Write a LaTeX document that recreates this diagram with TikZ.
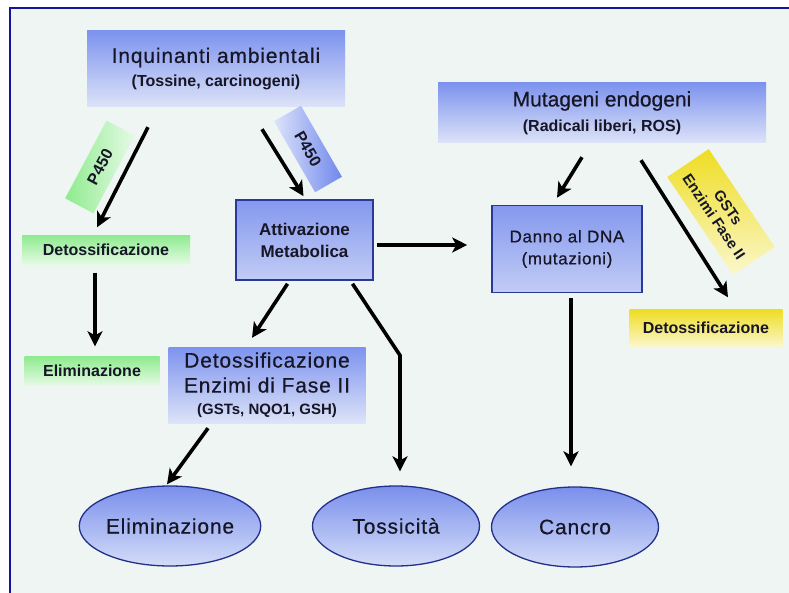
\documentclass[tikz,border=0pt]{standalone}
\usepackage{fontspec}
\setmainfont{Liberation Sans}
\newfontfamily\spc[LetterSpace=4,FakeBold=0.5]{Liberation Sans}
\newfontfamily\hvy[FakeBold=0.5]{Liberation Sans}
\usetikzlibrary{arrows.meta,shapes.geometric,calc}
\definecolor{bg}{HTML}{EEF5F2}
\definecolor{framec}{HTML}{1414A0}
\definecolor{txt}{HTML}{161626}
\definecolor{bluetop}{HTML}{7D93EE}
\definecolor{bluebot}{HTML}{DDE3F8}
\definecolor{boxtop}{HTML}{8498EE}
\definecolor{boxbot}{HTML}{C2CCF5}
\definecolor{boxedge}{HTML}{2A3898}
\definecolor{elltop}{HTML}{7A8FEC}
\definecolor{ellbot}{HTML}{D4DCF8}
\definecolor{elledge}{HTML}{23308A}
\definecolor{greentop}{HTML}{8EEB8E}
\definecolor{greenbot}{HTML}{E6FAE6}
\definecolor{yeltop}{HTML}{EEDD22}
\definecolor{yelbot}{HTML}{FBF7CC}
\definecolor{tagblue}{HTML}{7088EC}
\definecolor{tagbluepale}{HTML}{DCE3FA}
\newcommand\szBig{\fontsize{21}{25}\selectfont}
\newcommand\szMid{\fontsize{17}{22}\selectfont}
\newcommand\szPar{\fontsize{16}{19}\selectfont}
\newcommand\szLab{\fontsize{16}{19}\selectfont}
\newcommand\szTag{\fontsize{15}{17}\selectfont}
\begin{document}
\begin{tikzpicture}[x=1pt,y=-1pt,
  every node/.style={text=txt, align=center, inner sep=0pt},
  bluebox/.style={rectangle, top color=bluetop, bottom color=bluebot, draw=none},
  darkbox/.style={rectangle, top color=boxtop, bottom color=boxbot, draw=boxedge, line width=1.6pt},
  greenlab/.style={rectangle, top color=greentop, bottom color=greenbot, draw=none},
  yellab/.style={rectangle, top color=yeltop, bottom color=yelbot, draw=none},
  ovalbox/.style={ellipse, top color=elltop, bottom color=ellbot, draw=elledge, line width=1.3pt,
    minimum width=167pt, minimum height=80pt},
  arr/.style={line width=3.6pt, draw=black, -{Stealth[length=15pt,width=15pt,inset=4pt]}}
]
\useasboundingbox (0,0) rectangle (789,593);
\fill[white] (0,0) rectangle (789,593);
\fill[bg] (10,8) rectangle (789,593);
\draw[framec, line width=2.6pt] (10,593) -- (10,8) -- (789,8);

% boxes
\node[bluebox, minimum width=258pt, minimum height=76pt, font=\spc\szBig] (inq) at (216,69)
  {Inquinanti ambientali\\[-1pt]{\rmfamily\bfseries\szPar (Tossine, carcinogeni)}};
\node[bluebox, minimum width=328pt, minimum height=60pt, font=\hvy\szBig] (mut) at (602,113)
  {Mutageni endogeni\\[0pt]{\rmfamily\bfseries\szPar (Radicali liberi, ROS)}};
\node[darkbox, minimum width=137pt, minimum height=80pt, font=\bfseries\szMid] (att) at (304.5,240)
  {Attivazione\\Metabolica};
\node[darkbox, minimum width=150pt, minimum height=87pt, font=\spc\szMid] (danno) at (567,249)
  {Danno al DNA\\(mutazioni)};
\node[bluebox, minimum width=197pt, minimum height=76pt, font=\spc\szBig] (enz) at (267,385)
  {Detossificazione\\[0pt]Enzimi di Fase II\\[-3pt]{\rmfamily\bfseries\fontsize{15}{18}\selectfont (GSTs, NQO1, GSH)}};

% labels
\node[greenlab, minimum width=168pt, minimum height=29pt, font=\bfseries\szLab] (detA) at (106,250)
  {Detossificazione};
\node[greenlab, minimum width=135pt, minimum height=29pt, font=\bfseries\szLab] (elA) at (92,371)
  {Eliminazione};
\node[yellab, minimum width=153pt, minimum height=37pt, font=\bfseries\szLab] (detY) at (706,328)
  {Detossificazione};

% tags
\node[rectangle, rotate=62, left color=greentop, right color=greenbot,
  minimum width=88pt, minimum height=32pt, font=\bfseries\szLab] (tagA) at (100,167)
  {P450};
\node[rectangle, rotate=-60, left color=tagbluepale, right color=tagblue,
  minimum width=82pt, minimum height=31pt, font=\bfseries\szLab] (tagB) at (308,149)
  {P450};
\node[rectangle, rotate=-56, top color=yeltop, bottom color=yelbot,
  minimum width=118pt, minimum height=50pt, font=\bfseries\szTag] (tagC) at (721,212)
  {GSTs\\Enzimi Fase II};

% ovals
\node[ovalbox, font=\spc\szBig] (elim) at (170,526) {Eliminazione};
\node[ovalbox, font=\spc\szBig] (toss) at (396,526) {Tossicità};
\node[ovalbox, font=\spc\szBig] (canc) at (575,527) {Cancro};

% arrows
\draw[arr] ($(inq.south)+(-68,20)$) -- ($(detA.north)+(-9,-8)$);
\draw[arr] ($(inq.south)+(46,22)$) -- ($(att.north)+(-1,-3)$);
\draw[arr] ($(detA.south)+(-11,8)$) -- ($(elA.north)+(3,-10)$);
\draw[arr] ($(att.east)+(3,5)$) -- ($(danno.west)+(-24,-4)$);
\draw[arr] ($(mut.south)+(-20,14)$) -- ($(danno.north)+(-10,-7)$);
\draw[arr] ($(mut.south)+(39,17)$) -- ($(detY.north)+(22,-12)$);
\draw[arr] ($(att.south)+(-17,3)$) -- ($(enz.north)+(-15,-9)$);
\draw[arr] ($(att.south)+(48,3)$) -- ($(toss.north)+(4,-130)$) -- ($(toss.north)+(4,-14)$);
\draw[arr] ($(enz.south)+(-59,5)$) -- ($(elim.north)+(-3,-1)$);
\draw[arr] ($(danno.south)+(4,5)$) -- ($(canc.north)+(-4,-20)$);
\end{tikzpicture}
\end{document}
